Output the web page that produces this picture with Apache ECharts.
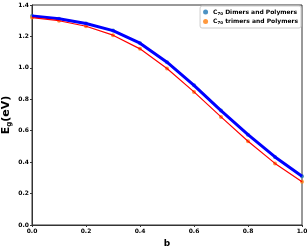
<!DOCTYPE html>
<html><head><meta charset="utf-8">
<script src="https://cdn.jsdelivr.net/npm/echarts@6/dist/echarts.min.js"></script>
<style>html,body{margin:0;padding:0;background:#fff}#c{width:307px;height:246px}</style>
</head><body><div id="c"></div>
<script>
const bValues = [0.0, 0.1, 0.2, 0.3, 0.4, 0.5, 0.6, 0.7, 0.8, 0.9, 1.0];
const dimers = [1.33, 1.312, 1.282, 1.237, 1.157, 1.036, 0.889, 0.728, 0.575, 0.433, 0.31];
const trimers = [1.32, 1.30, 1.265, 1.208, 1.121, 0.996, 0.847, 0.688, 0.533, 0.392, 0.276];
const xTicks = [0.0, 0.2, 0.4, 0.6, 0.8, 1.0];
const yTicks = [0.0, 0.2, 0.4, 0.6, 0.8, 1.0, 1.2, 1.4];
const legendNames = ['C70 Dimers and Polymers', 'C70 trimers and Polymers'];

const pair = arr => bValues.map((b, i) => [b, arr[i]]);
const chart = echarts.init(document.getElementById('c'));
const tickFont = {fontSize: 6, fontWeight: 'bold', color: '#000', fontFamily: 'DejaVu Sans'};
chart.setOption({
  animation: false,
  grid: {left: 32, right: 5, top: 5, bottom: 21, containLabel: false, outerBoundsMode: 'none',
         show: true, borderColor: '#333', borderWidth: 1},
  legend: {
    right: 6, top: 6, orient: 'vertical', itemWidth: 5, itemHeight: 5, itemGap: 3,
    padding: [3, 3, 3, 3], borderColor: '#ccc', borderWidth: 1, borderRadius: 2,
    data: legendNames.map(n => ({name: n, icon: 'circle'})),
    formatter: n => '{c|C}{s|70}{t|' + n.slice(3) + '}',
    textStyle: {
      padding: [0, 0, 0, 0],
      rich: {
        c: {fontSize: 6, fontWeight: 'bold', fontFamily: 'DejaVu Sans', color: '#000'},
        s: {fontSize: 4, fontWeight: 'bold', fontFamily: 'DejaVu Sans', color: '#000', verticalAlign: 'bottom', padding: [3, 0, 0, 0]},
        t: {fontSize: 6, fontWeight: 'bold', fontFamily: 'DejaVu Sans', color: '#000'}
      }
    }
  },
  xAxis: {
    type: 'value', min: 0, max: 1, interval: 0.2,
    name: 'b', nameLocation: 'middle', nameGap: 14, nameMoveOverlap: false,
    nameTextStyle: {fontSize: 9, fontWeight: 'bold', fontFamily: 'DejaVu Sans', color: '#000'},
    axisLine: {show: true, lineStyle: {color: '#333'}},
    axisTick: {show: true, length: 2, lineStyle: {color: '#333'}},
    splitLine: {show: false},
    axisLabel: Object.assign({margin: 3, formatter: v => v.toFixed(1)}, tickFont)
  },
  yAxis: {
    type: 'value', min: 0, max: 1.4, interval: 0.2,
    name: '{e|E}{g|g}{e|(eV)}', nameLocation: 'middle', nameGap: 19, nameRotate: 90, nameMoveOverlap: false,
    nameTextStyle: {
      rich: {
        e: {fontSize: 11, fontWeight: 'bold', fontFamily: 'DejaVu Sans', color: '#000'},
        g: {fontSize: 7, fontWeight: 'bold', fontFamily: 'DejaVu Sans', color: '#000', padding: [6, 0, 0, 0]}
      }
    },
    axisLine: {show: true, lineStyle: {color: '#333'}},
    axisTick: {show: true, length: 2, lineStyle: {color: '#333'}},
    splitLine: {show: false},
    axisLabel: Object.assign({margin: 3, formatter: v => v.toFixed(1)}, tickFont)
  },
  series: [
    {type: 'line', data: pair(dimers), showSymbol: false, lineStyle: {color: '#0000ff', width: 3}, z: 2, silent: true},
    {type: 'line', data: pair(trimers), showSymbol: false, lineStyle: {color: '#ff0000', width: 1.2}, z: 2, silent: true},
    {type: 'scatter', name: legendNames[0], data: pair(dimers), symbolSize: 4, itemStyle: {color: '#1f77b4'}, z: 1},
    {type: 'scatter', name: legendNames[1], data: pair(trimers), symbolSize: 4, itemStyle: {color: '#ff7f0e'}, z: 1}
  ]
});
</script></body></html>
